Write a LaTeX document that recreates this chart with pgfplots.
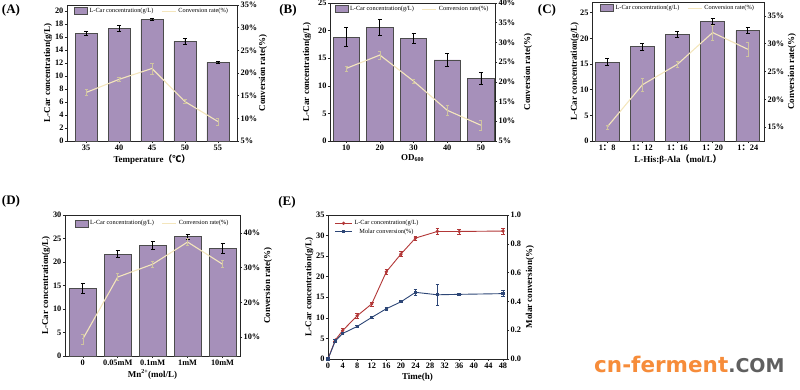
\documentclass[border=0pt]{standalone}
\usepackage{pgfplots}
\pgfplotsset{compat=1.18}
\usepackage{fontspec}
\setmainfont{Liberation Serif}
\setsansfont{DejaVu Sans}
\newfontfamily\cjk{Noto Sans CJK SC}
\definecolor{purp}{RGB}{166,144,186}
\definecolor{cream}{RGB}{244,230,188}
\definecolor{redl}{RGB}{178,55,55}
\definecolor{bluel}{RGB}{45,70,118}
\definecolor{orng}{RGB}{246,140,58}
\definecolor{wgray}{RGB}{95,95,95}
\pgfplotsset{
  base/.style={scale only axis, anchor=south west,
    /pgf/number format/assume math mode=true,
    tick label style={font=\bfseries\fontsize{8.3}{10}\selectfont, inner sep=1.2pt},
    label style={font=\bfseries\fontsize{9}{11}\selectfont},
    tick align=outside, major tick length=2.2pt,
    axis line style={black!85, line width=0.7pt},
    every tick/.style={black!85, line width=0.6pt}},
  leftax/.style={base, xtick pos=bottom, ytick pos=left,
    ylabel style={at={(axis description cs:#1,0.5)}, anchor=center}},
  rightax/.style={base, axis y line*=right, axis x line=none, ytick pos=right,
    ylabel style={at={(axis description cs:#1,0.5)}, anchor=center},
    yticklabel={\pgfmathprintnumber{\tick}\%},
    legend style={at={(0.5,1)}, anchor=north, legend columns=2, draw=none, fill=none,
      inner sep=1pt, font=\fontsize{6.3}{7}\selectfont,
      /tikz/every even column/.append style={column sep=6pt}}},
  barsty/.style={ybar, bar width=#1, bar shift=0pt, fill=purp, draw=black!70, line width=0.6pt,
    error bars/.cd, y dir=both, y explicit,
    error bar style={black, line width=0.7pt},
    error mark options={rotate=90, black, mark size=2pt, line width=0.7pt}},
  barsty/.default=0.67,
  linesty/.style={cream, line width=1.1pt, mark=none,
    legend image code/.code={\draw[cream, line width=1pt] (0pt,0pt) -- (14pt,0pt);},
    error bars/.cd, y dir=both, y explicit,
    error bar style={cream!85!black, line width=0.6pt},
    error mark options={rotate=90, cream!85!black, mark size=1.6pt, line width=0.6pt}},
  barleg/.style={legend image code/.code={\draw[fill=purp, draw=black!70, line width=0.5pt] (0pt,-3.5pt) rectangle (13pt,3.5pt);}}
}
\begin{document}
\begin{tikzpicture}
\path[use as bounding box] (0,0) rectangle (800pt,389pt);
% ---------- (A)
\begin{axis}[leftax=-0.112, ybar, at={(67pt,248pt)}, width=170pt, height=136pt,
  xmin=-0.58, xmax=4.58, ymin=0, ymax=20.9, ytick={0,2,...,20},
  xtick={0,...,4}, xticklabels={35,40,45,50,55},
  xlabel={Temperature{\cjk （℃）}}, ylabel={L-Car concentration(g/L)}]
\addplot[barsty] coordinates {(0,16.5) +- (0,0.3) (1,17.3) +- (0,0.5) (2,18.7) +- (0,0.15) (3,15.3) +- (0,0.4) (4,12.1) +- (0,0.15)};
\end{axis}
\begin{axis}[rightax=1.153, at={(67pt,248pt)}, width=170pt, height=136pt,
  xmin=-0.58, xmax=4.58, ymin=5, ymax=35, ytick={5,10,...,35},
  ylabel={Conversion rate(\%)}]
\addlegendimage{barleg}
\addlegendentry{L-Car concentration(g/L)}
\addplot[linesty] coordinates {(0,15.7) +- (0,0.7) (1,18.6) +- (0,0.4) (2,21.0) +- (0,1.2) (3,13.7) +- (0,0.4) (4,9.3) +- (0,0.8)};
\addlegendentry{Conversion rate(\%)}
\end{axis}
% ---------- (B)
\begin{axis}[leftax=-0.139, ybar, at={(330pt,248pt)}, width=165pt, height=138pt,
  xmin=-0.48, xmax=4.42, ymin=0, ymax=25, ytick={0,5,...,25},
  xtick={0,...,4}, xticklabels={10,20,30,40,50},
  xlabel={OD\textsubscript{600}}, ylabel={L-Car concentration(g/L)}]
\addplot[barsty=0.78] coordinates {(0,18.8) +- (0,1.7) (1,20.6) +- (0,1.4) (2,18.6) +- (0,0.9) (3,14.7) +- (0,1.1) (4,11.3) +- (0,1.1)};
\end{axis}
\begin{axis}[rightax=1.2, at={(330pt,248pt)}, width=165pt, height=138pt,
  xmin=-0.48, xmax=4.42, ymin=5, ymax=40, ytick={5,10,...,40},
  ylabel={Conversion rate(\%)}]
\addlegendimage{barleg}
\addlegendentry{L-Car concentration(g/L)}
\addplot[linesty] coordinates {(0,23.4) +- (0,0.6) (1,26.8) +- (0,1.0) (2,20.2) +- (0,0.5) (3,12.8) +- (0,1.3) (4,9.0) +- (0,1.2)};
\addlegendentry{Conversion rate(\%)}
\end{axis}
% ---------- (C)
\begin{axis}[leftax=-0.1, ybar, at={(592pt,248pt)}, width=172pt, height=139pt,
  xmin=-0.43, xmax=4.46, ymin=0, ymax=27.1, ytick={0,5,...,25},
  xtick={0,...,4}, xticklabels={1{\cjk ：}8,1{\cjk ：}12,1{\cjk ：}16,1{\cjk ：}20,1{\cjk ：}24},
  xlabel={L-His:β-Ala{\cjk （}mol/L{\cjk ）}}, ylabel={L-Car concentration(g/L)}]
\addplot[barsty=0.68] coordinates {(0,15.4) +- (0,0.7) (1,18.4) +- (0,0.7) (2,20.8) +- (0,0.6) (3,23.3) +- (0,0.6) (4,21.5) +- (0,0.6)};
\end{axis}
\begin{axis}[rightax=1.162, at={(592pt,248pt)}, width=172pt, height=139pt,
  xmin=-0.43, xmax=4.46, ymin=12.5, ymax=37.5, ytick={15,20,...,35},
  ylabel={Conversion rate(\%)}]
\addlegendimage{barleg}
\addlegendentry{L-Car concentration(g/L)}
\addplot[linesty] coordinates {(0,15.0) +- (0,0.4) (1,22.6) +- (0,1.2) (2,26.3) +- (0,0.5) (3,32.0) +- (0,1.3) (4,29.0) +- (0,1.3)};
\addlegendentry{Conversion rate(\%)}
\end{axis}
% ---------- (D)
\begin{axis}[leftax=-0.109, ybar, at={(65pt,33pt)}, width=175pt, height=141pt,
  xmin=-0.51, xmax=4.5, ymin=0, ymax=30, ytick={0,5,...,30},
  xtick={0,...,4}, xticklabels={0,0.05mM,0.1mM,1mM,10mM},
  xlabel={Mn\textsuperscript{2+}(mol/L)}, ylabel={L-Car concentration(g/L)}]
\addplot[barsty=0.76] coordinates {(0,14.4) +- (0,1.0) (1,21.7) +- (0,0.7) (2,23.5) +- (0,0.8) (3,25.4) +- (0,0.5) (4,22.9) +- (0,1.0)};
\end{axis}
\begin{axis}[rightax=1.16, at={(65pt,33pt)}, width=175pt, height=141pt,
  xmin=-0.51, xmax=4.5, ymin=4.5, ymax=45.2, ytick={10,20,30,40},
  ylabel={Conversion rate(\%)},
  legend style={at={(0.5,0.985)}}]
\addlegendimage{barleg}
\addlegendentry{L-Car concentration(g/L)}
\addplot[linesty] coordinates {(0,9.4) +- (0,1.5) (1,27.3) +- (0,1.0) (2,31.0) +- (0,0.8) (3,37.4) +- (0,1.0) (4,31.0) +- (0,1.0)};
\addlegendentry{Conversion rate(\%)}
\end{axis}
% ---------- (E)
\begin{axis}[leftax=-0.105, at={(328pt,30pt)}, width=179pt, height=144pt,
  xmin=0, xmax=49.1, ymin=0, ymax=35, ytick={0,5,...,35}, xtick={0,4,...,48},
  xlabel={Time(h)}, ylabel={L-Car concentration(g/L)}]
\addplot[redl, line width=0.9pt, mark=*, mark size=1.2pt,
  error bars/.cd, y dir=both, y explicit, error bar style={redl, line width=0.6pt},
  error mark options={rotate=90, redl, mark size=1.8pt, line width=0.6pt}]
  coordinates {(0,0) (2,4.6) +- (0,0.3) (4,6.9) +- (0,0.6) (8,10.5) +- (0,0.6) (12,13.4) +- (0,0.5) (16,21.2) +- (0,0.6) (20,25.5) +- (0,0.6) (24,29.4) +- (0,0.5) (30,31.0) +- (0,0.8) (36,31.0) +- (0,0.6) (48,31.1) +- (0,0.7)};
\end{axis}
\begin{axis}[rightax=1.128, at={(328pt,30pt)}, width=179pt, height=144pt,
  xmin=0, xmax=49.1, ymin=0, ymax=1, ytick={0,0.2,...,1.0},
  yticklabel={\pgfmathprintnumber[fixed, fixed zerofill, precision=1]{\tick}},
  ylabel={Molar conversion(\%)},
  legend style={at={(0.03,0.985)}, anchor=north west, legend columns=1, row sep=-1.5pt}]
\addlegendimage{redl, line width=0.9pt, mark=*, mark size=1.2pt}
\addlegendentry{L-Car concentration(g/L)}
\addplot[bluel, line width=0.9pt, mark=square*, mark size=1.1pt,
  error bars/.cd, y dir=both, y explicit, error bar style={bluel, line width=0.6pt},
  error mark options={rotate=90, bluel, mark size=1.8pt, line width=0.6pt}]
  coordinates {(0,0) (2,0.126) +- (0,0.008) (4,0.177) +- (0,0.008) (8,0.226) +- (0,0.008) (12,0.289) +- (0,0.006) (16,0.349) +- (0,0.008) (20,0.397) +- (0,0.006) (24,0.463) +- (0,0.02) (30,0.446) +- (0,0.073) (36,0.449) +- (0,0.008) (48,0.454) +- (0,0.02)};
\addlegendentry{Molar conversion(\%)}
\end{axis}
% ---------- panel labels
\node[font=\bfseries\fontsize{13}{14}\selectfont] at (11pt,379pt) {(A)};
\node[font=\bfseries\fontsize{13}{14}\selectfont] at (288pt,379pt) {(B)};
\node[font=\bfseries\fontsize{13}{14}\selectfont] at (547pt,379pt) {(C)};
\node[font=\bfseries\fontsize{13}{14}\selectfont] at (11pt,188pt) {(D)};
\node[font=\bfseries\fontsize{13}{14}\selectfont] at (287pt,187pt) {(E)};
% ---------- watermark
\node[anchor=base west, inner sep=0pt] at (594pt,17pt)
  {\sffamily\bfseries{\color{orng}\fontsize{21.5}{22}\selectfont cn-ferment}{\color{wgray}\fontsize{19}{19}\selectfont .COM}};
\end{tikzpicture}
\end{document}
